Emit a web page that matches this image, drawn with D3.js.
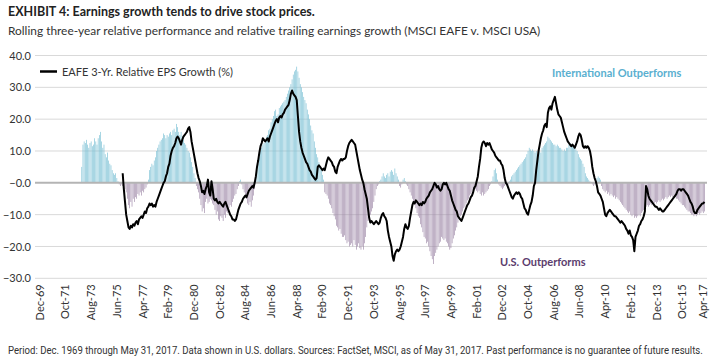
<!DOCTYPE html>
<html>
<head>
<meta charset="utf-8">
<script src="https://cdn.jsdelivr.net/npm/d3@7"></script>
<style>
  body { margin: 0; background: #fff; }
  text { font-family: Lato, "Open Sans", sans-serif; }
</style>
</head>
<body>
<div id="chart"></div>
<script>
'use strict';
//tick labels on the x axis (every 22 months, plus the last one)
const tickLabels = ["Dec-69", "Oct-71", "Aug-73", "Jun-75", "Apr-77", "Feb-79", "Dec-80", "Oct-82",
    "Aug-84", "Jun-86", "Apr-88", "Feb-90", "Dec-91", "Oct-93", "Aug-95", "Jun-97", "Apr-99",
    "Feb-01", "Dec-02", "Oct-04", "Aug-06", "Jun-08", "Apr-10", "Feb-12", "Dec-13", "Oct-15", "Apr-17"];
const yTicks = [-30, -20, -10, 0, 10, 20, 30, 40];

//rolling three-year relative performance, EAFE v. USA (%), monthly from Dec-69
//each row = Dec of one year through Nov of the next
const relPerf = [
    null, null, null, null, null, null, null, null, null, null, null, null,
    null, null, null, null, null, null, null, null, null, null, null, null,
    null, null, null, null, null, null, null, null, null, null, null, null,
    5, 12, 13, 12.5, 13.5, 12, 11, 12.5, 13, 11.5, 12, 14,
    13, 12, 14, 15, 16, 13, 11, 12, 9, 8, 9.5, 7,
    6, 5.5, 4, 3, 2.5, 3, 1.5, 0.5, -0.5, -1, -0.5, -1,
    -1.5, -2, -3, -5, -7, -8, -6, -7.5, -5, -6, -4.5, -5,
    -3.5, -4, -3, -4, -2.5, -3, -2, -1.5, -0.5, 1, 4, 5,
    6, 5.5, 7, 8, 10, 11, 12, 13, 13.5, 14, 15.5, 15,
    14, 15, 14.5, 15.5, 16, 15, 16.5, 17, 16, 18.5, 17.5, 16,
    15, 16, 14.5, 13.5, 12.5, 12, 11, 10, 9.5, 8, 6.5, 5,
    3, 1.5, -1, -2, -3, -5, -7, -9, -8, -9.5, -6, -5,
    -6.5, -6, -5, -5.5, -6.5, -7, -8.5, -10, -9, -11.5, -12, -10.5,
    -11, -12, -10, -11, -9, -9.5, -8, -7, -7.5, -6, -5, -4,
    -3.5, -2, -1, 0.5, 1, -0.5, -2, -3, -4, -5, -6.5, -7,
    -6, -7.5, -5.5, -4, -2, 1, 4, 6, 8, 10, 11, 12,
    12.5, 13.5, 14.5, 15, 16.5, 17, 19, 20, 21, 22.5, 23, 21,
    21.5, 23.5, 24, 24.5, 25, 25.5, 26, 27, 28, 29, 30, 31,
    32.5, 34, 35, 35.5, 36.5, 35, 33, 31, 30, 28.5, 27, 26,
    25, 23, 21.5, 20, 18, 16.5, 15.5, 13, 11, 9, 8, 6.5,
    5, 4, 2.5, 1, -3, -3.5, -4, -5, -6.5, -7, -8, -9.5,
    -10.5, -11.5, -13.5, -14, -15, -14.5, -16, -17, -17, -16.5, -18, -19,
    -18.5, -20, -19.5, -19, -20, -18, -19.5, -21, -20, -19, -20.5, -21,
    -20, -21, -19, -17, -14, -12, -11, -10, -9, -8, -6, -4,
    -2, -1, -0.5, 0.5, 1, 2, 3, 2, 1.5, 2.5, 3, 2,
    3.5, 4, 3.5, 2.5, 4.5, 3, 2, 1, -1, -1.5, -0.5, 1,
    1.5, 0.5, -0.5, -1, -2, -3, -4, -5, -6, -7, -8, -9.5,
    -10.5, -11, -13, -14, -15.5, -17, -17.5, -19, -18.5, -20, -21.5, -23,
    -24, -25.5, -23, -22, -21, -20, -19, -18.5, -17, -17.5, -18, -17.5,
    -18.5, -19, -20, -21, -20.5, -19, -17.5, -16.5, -15, -14, -12.5, -11.5,
    -10.5, -10, -9, -8, -7.5, -6.5, -5.5, -5, -4, -3.5, -3, -2.5,
    -1.5, -2, -2.5, -3, -2.5, -3.5, -4, -3, -4, -3.5, -3, -2.5,
    -2, -1, -0.5, 0.5, 2, 4, 4.5, 3, 1, -0.5, -1, -1.5,
    -2, -1.5, -1, -0.5, -1, -0.5, 0.5, 1, 2, 2.5, 3, 3.5,
    4, 4.5, 5, 5.5, 6, 6.5, 7, 7.5, 8, 9, 10, 11,
    10.5, 10, 10.5, 10, 9.5, 10, 9, 10.5, 10, 9.5, 11, 11.5,
    12, 12.5, 13, 14.5, 14, 13.5, 13, 12.5, 12, 12, 11.5, 12,
    11.5, 11, 11, 10.5, 10, 10.5, 10, 11, 11, 12, 12.5, 12,
    11.5, 11, 11, 10.5, 10, 9, 8, 7.5, 7, 6, 5, 3,
    2, 1.5, 1, 0.5, 0, -0.5, -1, -0.5, 0.5, 1.5, 2, 1.5,
    1, -1, -2, -2.5, -3, -2.5, -3.5, -3, -4, -3.5, -4, -4.5,
    -4, -5, -4.5, -5, -5.5, -6, -6.5, -7, -7.5, -8, -8.5, -9,
    -9.5, -9, -10, -10.5, -10, -11, -10.5, -11, -10.5, -10, -10.5, -9.5,
    -9, -8.5, -8, -7.5, -7, -7.5, -7, -6.5, -7, -6.5, -6.5, -6,
    -6.5, -6, -5.5, -6, -5.5, -5, -5.5, -5, -4.5, -5, -4.5, -4,
    -4.5, -4, -4.5, -4, -4.5, -5, -5, -5.5, -6, -6.5, -7, -7,
    -7.5, -8, -8.5, -9, -9, -9.5, -10, -10, -10.5, -10, -10.5, -10,
    -9.5, -10, -9.5, -9, -9.5, -9
];

//EAFE 3-yr relative EPS growth (%), same months
const epsGrowth = [
    null, null, null, null, null, null, null, null, null, null, null, null,
    null, null, null, null, null, null, null, null, null, null, null, null,
    null, null, null, null, null, null, null, null, null, null, null, null,
    null, null, null, null, null, null, null, null, null, null, null, null,
    null, null, null, null, null, null, null, null, null, null, null, null,
    null, null, null, null, null, null, null, null, null, null, null, 3,
    -2, -6, -10, -12, -14, -14.5, -13.5, -14, -13, -13.5, -12.5, -12,
    -13, -11.5, -11, -10.5, -11, -10, -9, -9.5, -8, -7.5, -6.5, -7,
    -6.5, -7.5, -7, -7.5, -6, -5, -4, -3, -2, -1, 0, 0.5,
    2, 3, 5, 6, 8.5, 10, 11, 11.5, 12.5, 14, 14.5, 14,
    13, 12, 13.5, 14.5, 15, 15.5, 16, 17, 17.5, 16, 13, 11,
    9, 7, 5, 3, 1.5, 0.5, -1, -3, -2.5, -3.5, -2, -1,
    1, -3, -4, 0.5, -2, -5, -5.5, -5, -6, -6.5, -6, -6.5,
    -7, -7.5, -6.5, -6, -7, -8, -9, -10, -10.5, -11.5, -11.5, -12,
    -11.5, -10, -8.5, -7.5, -6.5, -6, -5, -4.5, -4, -4.5, -3.5, -2.5,
    -2, -1.5, -1, -1.5, 0, 2, 5, 7, 9.5, 11.5, 12.5, 14,
    13.5, 13, 13.5, 14, 13, 14.5, 15.5, 16.5, 17.5, 18.5, 19.5, 20,
    19, 20.5, 21, 20.5, 21.5, 22, 23, 23.5, 24, 24.5, 26, 28,
    29, 28, 27.5, 27, 26, 21, 16, 13, 11, 9.5, 8.5, 7.5,
    6.5, 6, 5, 4, 3.5, 2.5, 2, 1.5, 1, 1.5, 5, 5.5,
    5, 4.5, 4, 4.5, 4, 5.5, 7, 8, 7.5, 7, 6.5, 5.5,
    5, 3.5, 3, 5, 6, 7, 7.5, 7, 7.5, 7.5, 8, 10,
    11.5, 12.5, 13, 13.5, 13, 12.5, 12, 10, 8, 6, 4, 2.5,
    1, 0, -2, -3.5, -5, -8, -11, -12.5, -12, -12.5, -13, -12.5,
    -12, -12.5, -13, -12.5, -11, -10, -9.5, -10.5, -11, -12, -15, -17,
    -18.5, -20, -23, -24.5, -22.5, -21.5, -21, -21.5, -21, -20, -18.5, -17,
    -14.5, -13, -14, -14.5, -13.5, -11, -9, -7, -6, -6.5, -5.5, -6,
    -6.5, -7, -6.5, -7, -6, -6.5, -6, -5, -4.5, -4, -3, -2.5,
    -2, -1, 0, -0.5, -1.5, -1, -2, -2.5, -2, -0.5, 0, -0.5,
    0, -1, -2, -2.5, -4, -5.5, -6.5, -7.5, -8.5, -9, -10.5, -11,
    -11.5, -12, -11, -10, -9, -8, -7, -6.5, -5.5, -4.5, -4, -3,
    -1.5, -1, 0.5, 2, 5, 7.5, 11, 12.5, 13, 12.5, 11.5, 12.5,
    12, 12.5, 11.5, 10.5, 10, 9.5, 8.5, 8, 7.5, 7, 7, 6,
    5.5, 4, 1.5, 0, -0.5, -1.5, -2.5, -3.5, -4.5, -5, -4, -3.5,
    -3, -3.5, -3, -3.5, -4.5, -5, -6.5, -8, -8.5, -9.5, -10, -8.5,
    -7, -6, -4, -1, 0, 4, 7, 10, 12, 14, 15.5, 16.5,
    18, 18.5, 17.5, 22, 23.5, 24, 23, 25, 26, 27, 25, 23,
    21.5, 21, 20.5, 19, 17.5, 16, 15, 14, 13, 12.5, 12, 11.5,
    12, 11.5, 11, 12, 13, 14.5, 15.5, 15, 13.5, 11.5, 11, 11.5,
    11, 11.5, 11, 10, 8, 5, 3, 1.5, 0.5, -1, -3, -3.5,
    -4, -5, -6, -8, -10, -10.5, -9.5, -9, -8.5, -9, -9.5, -10,
    -10.5, -10.5, -11, -11.5, -12, -12.5, -12, -12.5, -13, -13.5, -14.5, -15,
    -16, -15, -16.5, -17, -18, -21.5, -17, -16, -15, -13.5, -13, -12,
    -11.5, -10.5, -9, -1, -2, -4, -5, -5.5, -6, -6.5, -7, -7.5,
    -7.5, -8, -8.5, -8, -8.5, -9, -9, -8.5, -8, -7.5, -7, -6.5,
    -6, -5.5, -5, -4.5, -4, -3.5, -2.5, -2, -2, -2.5, -2, -2,
    -2.5, -3, -3.5, -4, -5, -6, -6.5, -7.5, -9, -9.5, -9.5, -8.5,
    -8, -7.5, -7, -6.5, -6.5, -6
];

const width = 728;
const height = 364;
const plot = { left: 35, right: 707, top: 55.5, bottom: 278.3 };

//month categories Dec-69 .. May-17
const fmtMonth = d3.timeFormat("%b-%y");
const months = d3.timeMonth.range(new Date(1969, 11, 1), new Date(2017, 5, 1)).map(fmtMonth);
const data = months.map(function(m, i) {
    return { month: m, perf: relPerf[i], eps: epsGrowth[i] };
});

const step = 663 / 568;
const x = d3.scaleBand()
    .domain(months)
    .range([40 - step / 2, 40 + (months.length - 0.5) * step])
    .paddingInner(0.45);
const y = d3.scaleLinear().domain([-30, 40]).range([plot.bottom, plot.top]);

const svg = d3.select("#chart").append("svg")
    .attr("width", width)
    .attr("height", height);

svg.append("rect").attr("width", width).attr("height", height).attr("fill", "#fff");

//titles
svg.append("text")
    .attr("x", 8).attr("y", 16)
    .style("font-size", "12.5px").style("font-weight", "bold").attr("fill", "#222")
    .text("EXHIBIT 4: Earnings growth tends to drive stock prices.");
svg.append("text")
    .attr("x", 8).attr("y", 35)
    .style("font-size", "11.9px").attr("fill", "#333")
    .text("Rolling three-year relative performance and relative trailing earnings growth (MSCI EAFE v. MSCI USA)");

//gridlines
svg.append("g")
    .selectAll("line")
    .data(yTicks.filter(function(d) { return d !== 0; }))
    .enter().append("line")
    .attr("x1", plot.left).attr("x2", plot.right)
    .attr("y1", function(d) { return y(d); })
    .attr("y2", function(d) { return y(d); })
    .attr("stroke", "#d9d9d9")
    .attr("stroke-width", 1);

//bars
svg.append("g")
    .selectAll("rect")
    .data(data.filter(function(d) { return d.perf !== null; }))
    .enter().append("rect")
    .attr("x", function(d) { return x(d.month); })
    .attr("width", x.bandwidth())
    .attr("y", function(d) { return y(Math.max(0, d.perf)); })
    .attr("height", function(d) { return Math.abs(y(d.perf) - y(0)); })
    .attr("fill", function(d) { return d.perf >= 0 ? "#78bfd4" : "#9d87a7"; });

//zero line
svg.append("line")
    .attr("x1", plot.left).attr("x2", plot.right)
    .attr("y1", y(0)).attr("y2", y(0))
    .attr("stroke", "#b4b4b4")
    .attr("stroke-width", 2);

//eps line
const drawLine = d3.line()
    .defined(function(d) { return d.eps !== null; })
    .x(function(d) { return x(d.month) + x.bandwidth() / 2; })
    .y(function(d) { return y(d.eps); });
svg.append("path")
    .datum(data)
    .attr("d", drawLine)
    .attr("fill", "none")
    .attr("stroke", "#000")
    .attr("stroke-width", 2)
    .attr("stroke-linejoin", "round");

//y axis labels
const yAxis = svg.append("g")
    .attr("transform", "translate(31,0)")
    .call(d3.axisLeft(y).tickValues(yTicks).tickSize(0).tickPadding(0)
        .tickFormat(function(d) { return (d <= 0 ? "\u2212" : "") + Math.abs(d).toFixed(1); }));
yAxis.select(".domain").remove();
yAxis.selectAll("text").style("font-size", "11px").attr("fill", "#333")
    .style("font-family", "Lato, sans-serif");

//x axis labels
const xAxis = svg.append("g")
    .attr("transform", "translate(0," + plot.bottom + ")")
    .call(d3.axisBottom(x).tickValues(tickLabels).tickSize(0));
xAxis.select(".domain").remove();
xAxis.selectAll("text")
    .attr("transform", "rotate(-90)")
    .attr("x", -6).attr("y", 0).attr("dy", "0.35em")
    .style("text-anchor", "end")
    .style("font-size", "11px").style("font-family", "Lato, sans-serif")
    .attr("fill", "#333");

//legend
svg.append("line")
    .attr("x1", 40).attr("x2", 57).attr("y1", 71.5).attr("y2", 71.5)
    .attr("stroke", "#000").attr("stroke-width", 2.5);
svg.append("text")
    .attr("x", 62).attr("y", 75.5)
    .style("font-size", "11px").attr("fill", "#333")
    .text("EAFE 3-Yr. Relative EPS Growth (%)");

//annotations
svg.append("text")
    .attr("x", 552).attr("y", 76.5)
    .style("font-size", "11px").style("font-weight", "bold").attr("fill", "#5aafd0")
    .text("International Outperforms");
svg.append("text")
    .attr("x", 500).attr("y", 265.5)
    .style("font-size", "11px").style("font-weight", "bold").attr("fill", "#5b3d6d")
    .text("U.S. Outperforms");

//footnote, squeezed horizontally to the reference width
const foot = svg.append("text")
    .attr("y", 354.5)
    .style("font-size", "10.5px").style("font-family", "'Liberation Sans Narrow', Roboto, sans-serif")
    .attr("fill", "#333")
    .text("Period: Dec. 1969 through May 31, 2017. Data shown in U.S. dollars. Sources: FactSet, MSCI, as of May 31, 2017. Past performance is no guarantee of future results.");
const footLen = foot.node().getComputedTextLength();
foot.attr("transform", "translate(8,0) scale(" + (696 / footLen) + ",1)");
</script>
</body>
</html>
